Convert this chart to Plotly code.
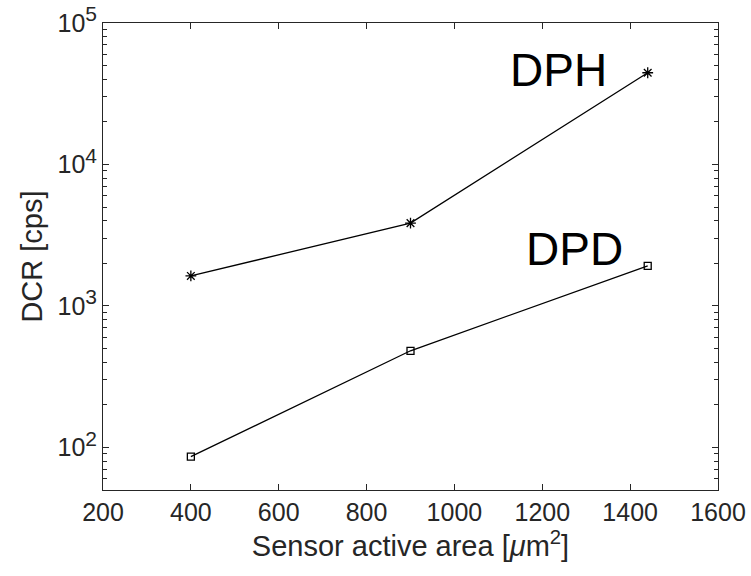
import plotly.graph_objects as go

area = [400, 900, 1440]
dph = [1630, 3850, 44500]
dpd = [86, 482, 1920]

x_ticks = [200, 400, 600, 800, 1000, 1200, 1400, 1600]
y_ticks = [100, 1000, 10000, 100000]
y_exps = ["2", "3", "4", "5"]
y_ticktext = ["10<sup><span style='font-size:21px'>" + e + "</span></sup>" for e in y_exps]
y_minor = [m * 10 ** e for e in range(1, 5) for m in range(2, 10) if 50 <= m * 10 ** e <= 100000]

font = "Liberation Sans, Arial, Helvetica, sans-serif"

fig = go.Figure()
fig.add_trace(go.Scatter(x=area, y=dph, mode="lines+markers", name="DPH",
                         line=dict(color="black", width=1.3),
                         marker=dict(symbol="asterisk-open", size=9, color="black",
                                     line=dict(color="black", width=1.3))))
fig.add_trace(go.Scatter(x=area, y=dpd, mode="lines+markers", name="DPD",
                         line=dict(color="black", width=1.3),
                         marker=dict(symbol="square-open", size=7, color="black",
                                     line=dict(color="black", width=1.3))))

fig.add_annotation(x=1236, y=4.67, xref="x", yref="y", text="DPH", showarrow=False,
                   font=dict(size=46, family=font, color="black"))
fig.add_annotation(x=1273, y=3.40, xref="x", yref="y", text="DPD", showarrow=False,
                   font=dict(size=46, family=font, color="black"))

fig.update_layout(
    width=751, height=576,
    margin=dict(l=103, r=33, t=23, b=86, autoexpand=False),
    paper_bgcolor="white", plot_bgcolor="white",
    showlegend=False,
    font=dict(family=font, size=25, color="#262626"),
    xaxis=dict(range=[200, 1600], tickvals=x_ticks, ticks="inside", ticklen=6,
               tickcolor="#262626", showline=True, linecolor="#262626", linewidth=1,
               mirror="ticks", showgrid=False, zeroline=False, automargin=False,
               tickfont=dict(size=25),
               title=dict(text="Sensor active area [<i>μ</i>m<sup>2</sup>]", standoff=10,
                          font=dict(size=29))),
    yaxis=dict(type="log", range=[1.699, 5], tickvals=y_ticks, ticktext=y_ticktext,
               ticks="inside", ticklen=6, tickcolor="#262626", showline=True,
               linecolor="#262626", linewidth=1, mirror="allticks", showgrid=False,
               zeroline=False, automargin=False, tickfont=dict(size=25),
               minor=dict(tickvals=y_minor, ticks="inside", ticklen=4, tickcolor="#262626",
                          showgrid=False),
               title=dict(text="DCR [cps]", standoff=6, font=dict(size=29))),
)

fig.write_html("out.html", config={"displayModeBar": False},
               post_script="document.body.style.margin='0';")
